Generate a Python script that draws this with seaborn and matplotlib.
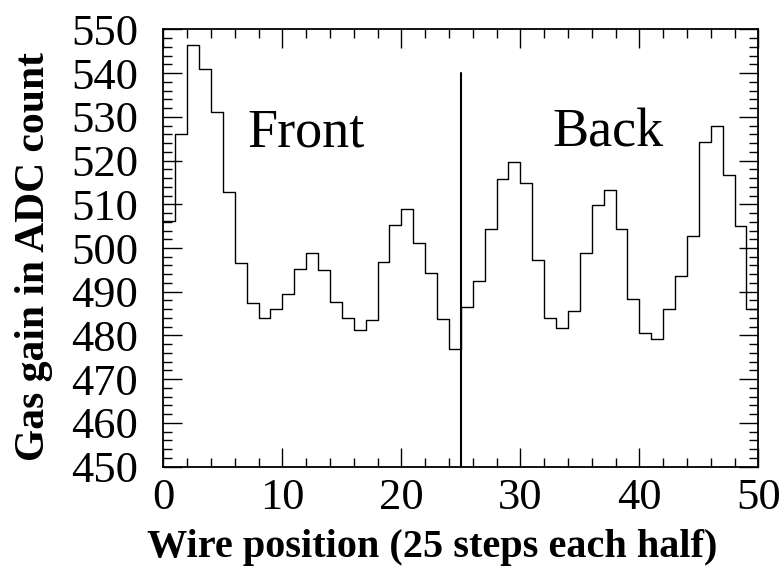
import numpy as np
import pandas as pd
import matplotlib
matplotlib.use("Agg")
import matplotlib.pyplot as plt
import seaborn as sns
from matplotlib.ticker import MultipleLocator

# Wire positions (bin left edges) and gas gain per bin
wire_pos = list(range(50))
gas_gain = [506.2, 526.0, 546.5, 541.0, 531.0, 512.8, 496.6, 487.4, 484.1, 486.0,
            489.5, 495.3, 498.8, 495.0, 487.7, 484.0, 481.2, 483.5, 496.9, 505.2,
            508.9, 501.2, 494.3, 483.8, 477.0, 486.4, 492.4, 504.4, 515.8, 519.6,
            514.9, 497.2, 484.1, 481.6, 485.7, 498.8, 509.8, 513.3, 504.3, 488.4,
            480.6, 479.1, 486.1, 493.7, 502.8, 524.3, 527.9, 516.8, 505.1, 486.1]
xticks = [0, 10, 20, 30, 40, 50]
yticks = [450, 460, 470, 480, 490, 500, 510, 520, 530, 540, 550]
divider_x = 25
divider_top = 540
labels = ["Front", "Back"]
label_x = [7.1, 32.7]
label_y = [523.1, 523.1]

# step outline: append closing edge at x=50
edges = wire_pos + [wire_pos[-1] + 1]
df = pd.DataFrame({"pos": edges, "gain": gas_gain + [gas_gain[-1]]})

sns.set_theme(style="ticks")
plt.rcParams["font.family"] = ["Liberation Serif", "DejaVu Serif"]
plt.rcParams["text.color"] = "black"
plt.rcParams["axes.labelcolor"] = "black"

fig = plt.figure(figsize=(7.84, 5.67), dpi=100)
ax = fig.add_axes([163.3 / 784, 1 - 466.7 / 567, (758.3 - 163.3) / 784, (466.7 - 29.3) / 567])

sns.lineplot(data=df, x="pos", y="gain", drawstyle="steps-post", color="black",
             linewidth=1.0, ax=ax, estimator=None, sort=False)
ax.plot([divider_x, divider_x], [450, divider_top], color="black", linewidth=1.5)

for t, x, y in zip(labels, label_x, label_y):
    ax.text(x, y, t, fontsize=39, ha="left", va="baseline", color="black")

ax.set_xlim(0, 50)
ax.set_ylim(450, 550)
ax.set_xticks(xticks)
ax.set_yticks(yticks)
ax.xaxis.set_minor_locator(MultipleLocator(2))
ax.yaxis.set_minor_locator(MultipleLocator(2))
ax.tick_params(which="both", direction="in", top=True, right=True, colors="black",
               labelcolor="black")
ax.tick_params(which="major", length=13.5, width=1.0, labelsize=32)
ax.tick_params(which="minor", length=6.5, width=1.0)
ax.tick_params(axis="x", which="major", pad=8)
ax.tick_params(axis="y", which="major", pad=18)
for s in ax.spines.values():
    s.set_linewidth(1.3)
    s.set_color("black")

ax.set_xlabel("Wire position (25 steps each half)", fontsize=29, fontweight="bold",
              labelpad=8, color="black")
ax.set_ylabel("Gas gain in ADC count", fontsize=30, fontweight="bold",
              labelpad=13, color="black")
ax.xaxis.label.set_x(0.4516)
ax.yaxis.label.set_y(0.4806)

fig.savefig("out.png", dpi=100)
